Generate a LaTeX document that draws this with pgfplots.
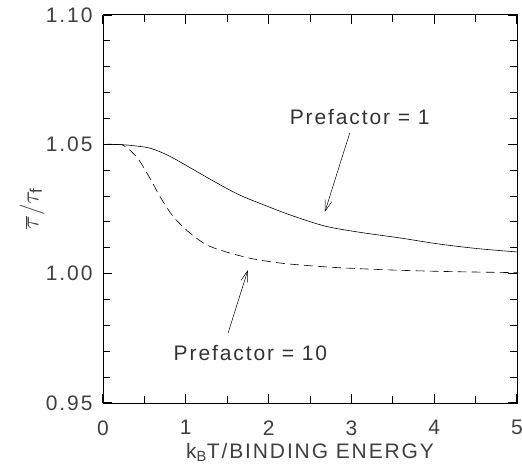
\documentclass[border=0pt]{standalone}
\usepackage{fontspec}
\setmainfont[LetterSpace=9]{Liberation Sans}
\usepackage{pgfplots}
\pgfplotsset{compat=1.18}
\usetikzlibrary{arrows.meta,calc}
\begin{document}
\begin{tikzpicture}
\begin{axis}[name=ax,
  scale only axis, width=414pt, height=388pt,
  xmin=0, xmax=5, ymin=0.95, ymax=1.10,
  xtick={0,1,2,3,4,5}, minor xtick={0.5,1.5,2.5,3.5,4.5},
  ytick={0.95,1.00,1.05,1.10}, minor ytick={0.96,0.97,0.98,0.99,1.01,1.02,1.03,1.04,1.06,1.07,1.08,1.09},
  tick align=inside,
  xtick pos=both, ytick pos=both,
  major tick length=9pt, minor tick length=7pt,
  every major tick/.append style={draw=black, line width=1.1pt},
  every minor tick/.append style={draw=black, line width=1pt},
  yticklabel style={/pgf/number format/fixed,/pgf/number format/fixed zerofill,/pgf/number format/precision=2},
  /pgf/number format/assume math mode=true,
  tick label style={font=\fontsize{21}{24}\selectfont, color=black!75},
  xticklabel style={yshift=-14pt},
  yticklabel style={xshift=-7pt},
  label style={font=\fontsize{21}{24}\selectfont, color=black!75},
  xlabel={k$_{\mathrm{B}}$T/BINDING ENERGY},
  ylabel={\fontsize{24}{26}\selectfont$\overline{\tau}/\tau_{\mathrm{f}}$},
  xlabel style={at={(axis description cs:0.5,0)}, anchor=north, yshift=-37pt},
  ylabel style={at={(axis description cs:0,0.5)}, anchor=south, yshift=55pt},
  axis line style={line width=1pt},
]
\addplot[black, line width=0.6pt, smooth] coordinates {
(0,1.0500) (0.2,1.0499) (0.33,1.0496) (0.57,1.0485) (0.8,1.0455) (1.05,1.0410) (1.35,1.0355) (1.65,1.0304) (1.95,1.0265) (2.26,1.0227) (2.68,1.0184) (3.1,1.0160) (3.59,1.0138) (4.05,1.0115) (4.52,1.0097) (5.0,1.0084)
};
\addplot[black, line width=0.6pt, smooth, dash pattern=on 9pt off 5pt] coordinates {
(0,1.0500) (0.15,1.0500) (0.24,1.0497) (0.35,1.0470) (0.45,1.0432) (0.6,1.0350) (0.69,1.0297) (0.85,1.0220) (1.05,1.0157) (1.26,1.0110) (1.53,1.0080) (1.8,1.0058) (2.05,1.0045) (2.26,1.0037) (2.8,1.0024) (3.5,1.0014) (4.2,1.0008) (5.0,1.0004)
};
\node[font=\fontsize{21}{24}\selectfont, color=black!80] at (axis cs:3.1,1.0606) {Prefactor = 1};
\draw[-{Straight Barb[length=11pt,width=7pt]}, line width=0.5pt] (axis cs:2.98,1.0544) -- (axis cs:2.68,1.0239);
\node[font=\fontsize{21}{24}\selectfont, color=black!80] at (axis cs:1.78,0.9693) {Prefactor = 10};
\draw[-{Straight Barb[length=11pt,width=7pt]}, line width=0.5pt] (axis cs:1.51,0.977) -- (axis cs:1.75,1.0014);
\end{axis}
\pgfresetboundingbox
\path ($(ax.south west)+(-103pt,-63pt)$) rectangle ($(ax.north east)+(5pt,15pt)$);
\end{tikzpicture}
\end{document}
